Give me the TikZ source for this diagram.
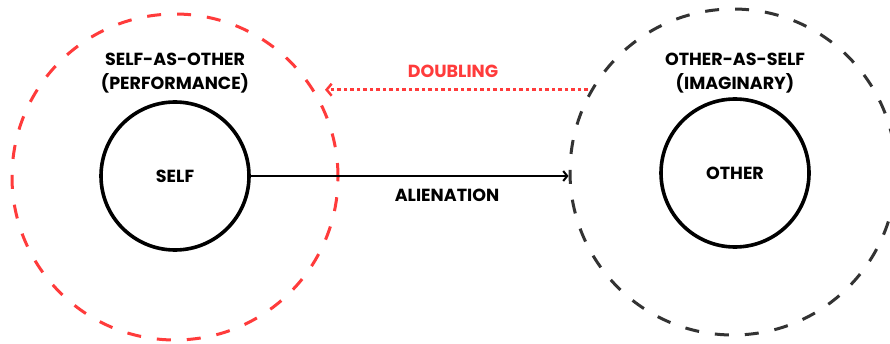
\documentclass[tikz,border=0pt]{standalone}
\usepackage{fontspec}
\setmainfont{Poppins}
\usetikzlibrary{arrows.meta}
\definecolor{dred}{HTML}{FF3B3B}
\definecolor{dgray}{HTML}{333333}
\tikzset{
  inner/.style={circle, draw=black, line width=3.6pt, minimum size=148pt, inner sep=0pt, font=\bfseries\fontsize{17.5}{20}\selectfont},
  outer/.style={circle, line width=3pt, minimum size=326pt, inner sep=0pt, dash pattern=on 14pt off 16pt},
  lbl/.style={font=\bfseries\fontsize{17.5}{20}\selectfont, inner sep=0pt},
}
\begin{document}
\begin{tikzpicture}[x=1pt,y=1pt]
\useasboundingbox[fill=white] (0,0) rectangle (890,343);
\node[outer, draw=dred] (selfo) at (175,166) {};
\node[outer, draw=dgray] (othero) at (733,171) {};
\node[inner] (self) at (175,167) {SELF};
\node[inner] (other) at (735,170) {OTHER};
\node[lbl] (sao1) at (175,284) {SELF-AS-OTHER};
\node[lbl] (sao2) at (175,260) {(PERFORMANCE)};
\node[lbl] (oas1) at (735,284) {OTHER-AS-SELF};
\node[lbl] (oas2) at (735,260) {(IMAGINARY)};
\coordinate (dstart) at (othero.150.6);
\coordinate (dend) at (dstart -| selfo.31.4);
\draw[dred, line width=3pt, dash pattern=on 3.5pt off 3pt, -{Straight Barb[length=5pt,width=12pt,line width=2.5pt]}, shorten >=9pt, shorten <=3pt] (dstart) -- (dend);
\node[lbl, text=dred] (doubling) at (453,272) {DOUBLING};
\draw[black, line width=2pt, -{Straight Barb[length=4pt,width=10pt,line width=2pt]}] (self.east) -- (self.east -| othero.west);
\node[lbl] (alien) at (447,148) {ALIENATION};
\end{tikzpicture}
\end{document}
